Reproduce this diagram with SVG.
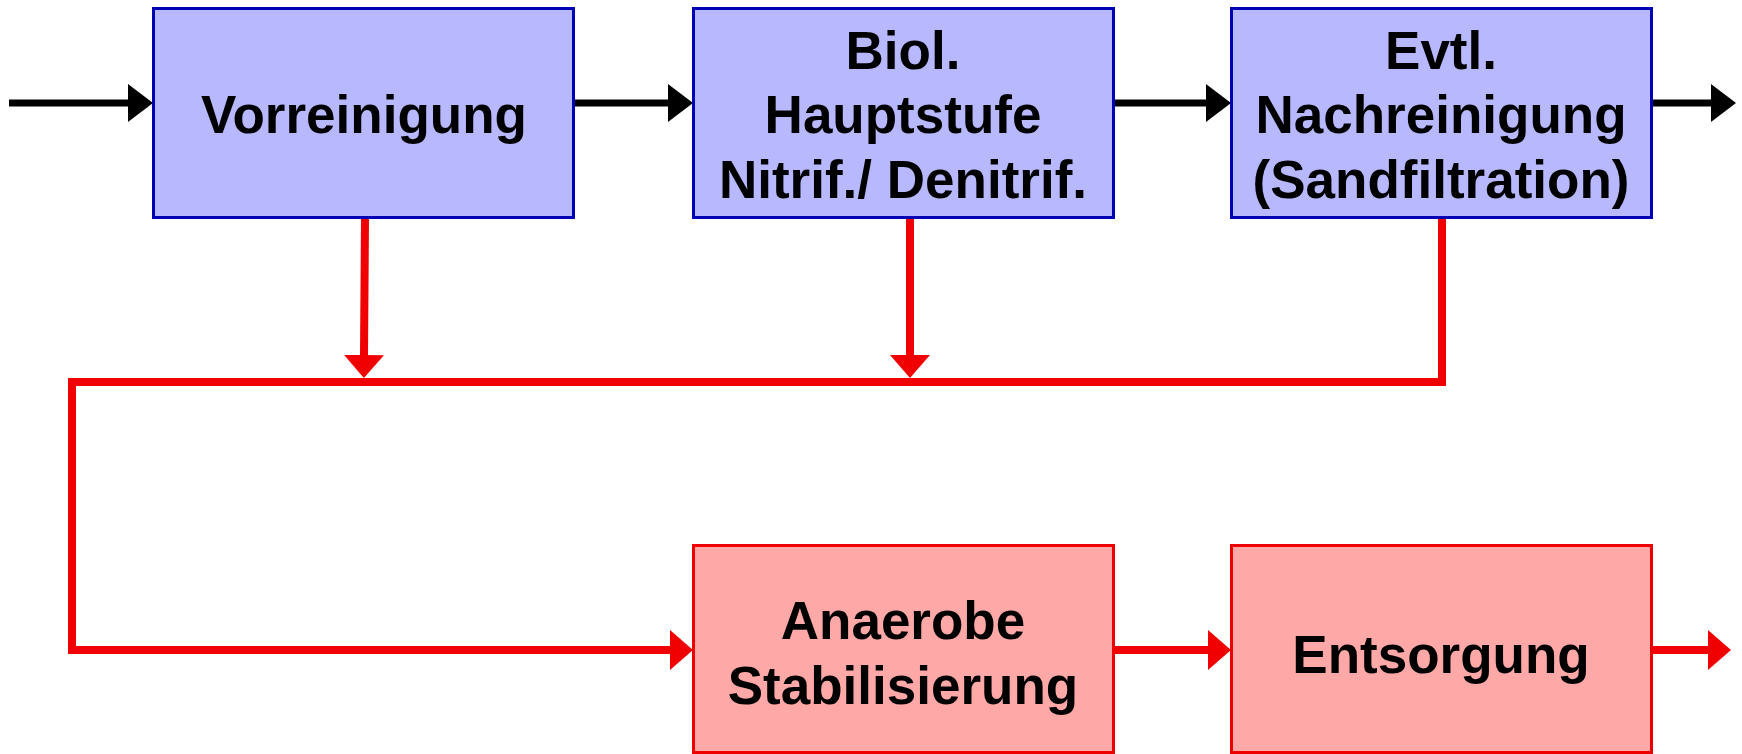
<svg xmlns="http://www.w3.org/2000/svg" width="1742" height="754" viewBox="0 0 1742 754">
<style>
.blue{fill:#B8B8FF;stroke:#0000B4;stroke-width:3}
.red{fill:#FFA8A8;stroke:#EE0000;stroke-width:3}
text{font-family:"Liberation Sans",Arial,sans-serif;font-weight:bold;font-size:53px;fill:#000;text-anchor:middle}
.bl{fill:none;stroke:#000;stroke-width:7}
.rl{fill:none;stroke:#F00000;stroke-width:8;stroke-linejoin:miter;stroke-linecap:butt}
</style>
<defs>
<marker id="ah" markerUnits="userSpaceOnUse" markerWidth="26" markerHeight="40" refX="1" refY="20" orient="auto"><path d="M0,1 L25,20 L0,39 z" fill="#000"/></marker>
<marker id="rh" markerUnits="userSpaceOnUse" markerWidth="24" markerHeight="40" refX="1" refY="20" orient="auto"><path d="M0,0 L23,20 L0,40 z" fill="#F00000"/></marker>
</defs>
<rect width="1742" height="754" fill="#fff"/>
<g id="connectors">
<line class="bl" x1="9" y1="103" x2="129" y2="103" marker-end="url(#ah)"/>
<line class="bl" x1="575" y1="103" x2="669" y2="103" marker-end="url(#ah)"/>
<line class="bl" x1="1114" y1="103" x2="1207" y2="103" marker-end="url(#ah)"/>
<line class="bl" x1="1653" y1="103" x2="1712" y2="103" marker-end="url(#ah)"/>
<path class="rl" d="M1442,219 V382 H72 V650 H671" marker-end="url(#rh)"/>
<line class="rl" x1="365" y1="219" x2="364" y2="356" marker-end="url(#rh)"/>
<line class="rl" x1="910" y1="219" x2="910" y2="356" marker-end="url(#rh)"/>
<line class="rl" x1="1114" y1="650" x2="1209" y2="650" marker-end="url(#rh)"/>
<line class="rl" x1="1653" y1="650" x2="1709" y2="650" marker-end="url(#rh)"/>
</g>
<g id="vorreinigung">
<rect class="blue" x="153.5" y="8.5" width="420" height="209"/>
<text x="364" y="133">Vorreinigung</text>
</g>
<g id="biol">
<rect class="blue" x="693.5" y="8.5" width="420" height="209"/>
<text x="903" y="69">Biol.</text>
<text x="903" y="133">Hauptstufe</text>
<text x="903" y="198">Nitrif./ Denitrif.</text>
</g>
<g id="nachreinigung">
<rect class="blue" x="1231.5" y="8.5" width="420" height="209"/>
<text x="1441" y="69">Evtl.</text>
<text x="1441" y="133">Nachreinigung</text>
<text x="1441" y="198">(Sandfiltration)</text>
</g>
<g id="anaerobe">
<rect class="red" x="693.5" y="545.5" width="420" height="207"/>
<text x="903" y="639">Anaerobe</text>
<text x="903" y="704">Stabilisierung</text>
</g>
<g id="entsorgung">
<rect class="red" x="1231.5" y="545.5" width="420" height="207"/>
<text x="1441" y="673">Entsorgung</text>
</g>
</svg>
